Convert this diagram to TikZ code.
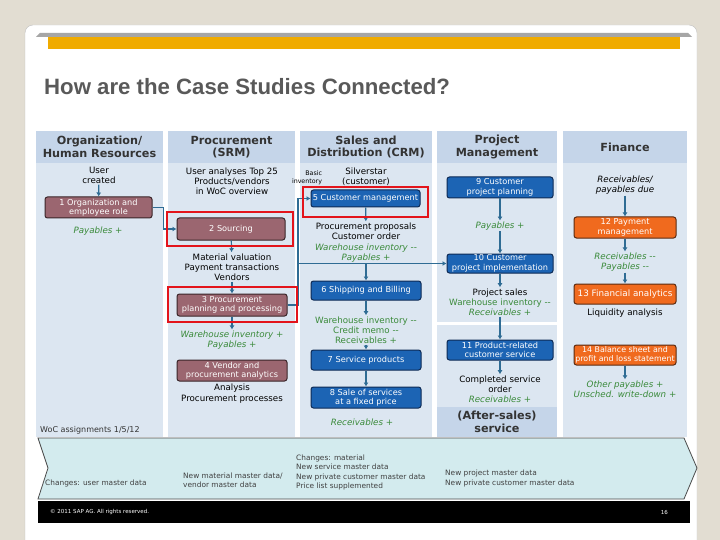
\documentclass[tikz,border=0pt]{standalone}
\usepackage{fontspec}
\usetikzlibrary{arrows.meta}
\setmainfont{DejaVu Sans}
\newfontfamily\titlefont{Liberation Sans}
\newfontfamily\dv{DejaVu Sans}
\definecolor{beige}{HTML}{E2DDD2}
\definecolor{headblue}{HTML}{C5D5E9}
\definecolor{bodyblue}{HTML}{DCE6F1}
\definecolor{maroonbox}{HTML}{9B6670}
\definecolor{maroonline}{HTML}{3A2528}
\definecolor{bluebox}{HTML}{1C64B4}
\definecolor{blueline}{HTML}{0D2A55}
\definecolor{orangebox}{HTML}{F06A1E}
\definecolor{orangeline}{HTML}{5A2A10}
\definecolor{arrowc}{HTML}{2F6C94}
\definecolor{grn}{HTML}{3A8A3A}
\definecolor{hired}{HTML}{E3141B}
\definecolor{sapyellow}{HTML}{F0AB00}
\definecolor{titlegray}{HTML}{595959}
\definecolor{bandfill}{HTML}{D3EBEE}
\tikzset{
  colhead/.style={fill=headblue, text=black!80, font=\dv\bfseries\fontsize{11.2}{12.5}\selectfont, align=center, inner sep=0pt},
  procbox/.style={rounded corners=2.5pt, line width=1pt, text=white, align=center, inner sep=0pt, font=\dv\fontsize{8.2}{9.4}\selectfont},
  mbox/.style={procbox, fill=maroonbox, draw=maroonline},
  bbox/.style={procbox, fill=bluebox, draw=blueline},
  obox/.style={procbox, fill=orangebox, draw=orangeline},
  txt/.style={align=center, inner sep=1pt, font=\dv\fontsize{8.7}{10.2}\selectfont, text=black},
  gtxt/.style={txt, text=grn, font=\dv\itshape\fontsize{8.7}{10.2}\selectfont},
  gtxtu/.style={txt, text=grn},
  arr/.style={draw=arrowc, line width=1.2pt, -{Latex[length=4pt,width=5pt]}},
  hilite/.style={draw=hired, line width=2.5pt},
  bandtxt/.style={anchor=west, align=left, inner sep=0pt, text=black!75, font=\dv\fontsize{7.4}{9.5}\selectfont}
}
\begin{document}
\begin{tikzpicture}[x=1pt,y=-1pt]
\useasboundingbox (0,0) rectangle (720,540);
\fill[beige] (0,0) rectangle (720,540);
\fill[white, rounded corners=8pt] (25,25) rectangle (697,560);
\draw[black!25, rounded corners=8pt] (25,560) -- (25,25) -- (697,25) -- (697,560);
% top bars
\fill[black!35] (36,37) -- (40,33) -- (688,33) -- (692,37) -- cycle;
\fill[sapyellow] (48,37) rectangle (680,49);
% title
\node[anchor=west, inner sep=0pt, text=titlegray, font=\titlefont\bfseries\fontsize{22.2}{25}\selectfont] (title) at (44,87) {How are the Case Studies Connected?};
% columns
\fill[bodyblue] (36,163) rectangle (163,437);
\fill[bodyblue] (168,163) rectangle (295,437);
\fill[bodyblue] (300,163) rectangle (432,437);
\fill[bodyblue] (437,163) rectangle (557,322);
\fill[bodyblue] (437,325) rectangle (557,437);
\fill[bodyblue] (563,163) rectangle (687,437);
\node[colhead, minimum width=127pt, minimum height=32pt] (h1) at (99.5,147) {Organization/\\Human Resources};
\node[colhead, minimum width=127pt, minimum height=32pt] (h2) at (231.5,147) {Procurement\\(SRM)};
\node[colhead, minimum width=132pt, minimum height=32pt] (h3) at (366,147) {Sales and\\Distribution (CRM)};
\node[colhead, minimum width=120pt, minimum height=32pt] (h4) at (497,147) {Project\\Management};
\node[colhead, minimum width=124pt, minimum height=32pt] (h5) at (625,147) {Finance};
\node[colhead, minimum width=120pt, minimum height=30pt] (h6) at (497,422) {(After-sales)\\service};
% column 1
\node[txt] (uc) at (99,175) {User\\created};
\node[mbox, minimum width=107pt, minimum height=21pt] (n1) at (98.5,207.5) {1 Organization and\\employee role};
\node[gtxt] (pay1) at (98,231) {Payables +};
\node[txt, anchor=west, font=\dv\fontsize{8}{9}\selectfont, text=black!80] (woc) at (39,430) {WoC assignments 1/5/12};
% column 2
\node[txt] (ua) at (232,181) {User analyses Top 25\\Products/vendors\\in WoC overview};
\node[mbox, minimum width=108pt, minimum height=22pt] (n2) at (231,229) {2 Sourcing};
\node[txt] (mat) at (232,267) {Material valuation\\Payment transactions\\Vendors};
\node[mbox, minimum width=110pt, minimum height=22pt] (n3) at (232,305) {3 Procurement\\planning and processing};
\node[gtxt] (wh2) at (232,340) {Warehouse inventory +\\Payables +};
\node[mbox, minimum width=110pt, minimum height=21pt] (n4) at (232,370.5) {4 Vendor and\\procurement analytics};
\node[txt] (an) at (232,393.5) {Analysis\\Procurement processes};
% column 3
\node[txt, font=\dv\fontsize{6.3}{7.5}\selectfont, align=right] (basic) at (307,178) {Basic\\inventory};
\node[txt] (silv) at (366,177) {Silverstar\\(customer)};
\node[bbox, minimum width=109pt, minimum height=17pt] (n5) at (365.5,198.5) {5 Customer management};
\node[txt] (procp) at (366,231) {Procurement proposals\\Customer order};
\node[gtxt] (wh3) at (366,253) {Warehouse inventory --\\Payables +};
\node[bbox, minimum width=110pt, minimum height=19pt] (n6) at (366,290.5) {6 Shipping and Billing};
\node[gtxtu] (wh3b) at (366,330) {Warehouse inventory --\\Credit memo --\\Receivables +};
\node[bbox, minimum width=110pt, minimum height=20pt] (n7) at (366,360) {7 Service products};
\node[bbox, minimum width=110pt, minimum height=21pt] (n8) at (366,397.5) {8 Sale of services\\at a fixed price};
\node[gtxt] (rec3) at (362,422) {Receivables +};
% column 4
\node[bbox, minimum width=106pt, minimum height=21pt] (n9) at (500,187.5) {9 Customer\\project planning};
\node[gtxt] (pay4) at (500,226) {Payables +};
\node[bbox, minimum width=106pt, minimum height=19pt] (n10) at (500,263.5) {10 Customer\\project implementation};
\node[txt] (ps) at (500,302) {Project sales\\\textcolor{grn}{Warehouse inventory --}\\\textcolor{grn}{\itshape Receivables +}};
\node[bbox, minimum width=106pt, minimum height=20pt] (n11) at (500,350) {11 Product-related\\customer service};
\node[txt] (cs) at (500,389) {Completed service\\order\\\textcolor{grn}{\itshape Receivables +}};
% column 5
\node[txt, font=\dv\itshape\fontsize{8.7}{10.2}\selectfont] (rpd) at (625,185) {Receivables/\\payables due};
\node[obox, minimum width=102pt, minimum height=21pt] (n12) at (625,227.5) {12 Payment\\management};
\node[gtxt] (rp) at (625,262) {Receivables --\\Payables --};
\node[obox, minimum width=102pt, minimum height=20pt, font=\dv\fontsize{8.8}{10}\selectfont] (n13) at (625,294) {13 Financial analytics};
\node[txt] (liq) at (625,313) {Liquidity analysis};
\node[obox, minimum width=102pt, minimum height=20pt, font=\dv\fontsize{7.9}{9}\selectfont] (n14) at (625,355) {14 Balance sheet and\\profit and loss statement};
\node[gtxt] (op) at (625,389) {Other payables +\\Unsched. write-down +};
% arrows
\draw[arr] (uc) -- (n1);
\draw[arr] (n1.east) -- ++(11,0) |- (n2.west);
\draw[arr] (n2) -- (mat);
\draw[arr] (mat) -- (n3);
\draw[arr] (n3) -- (wh2);
\coordinate (j) at (298,305);
\coordinate (b) at (298,263.5);
\draw[arr] (n3.east) -- (j) |- (n5.west);
\draw[arr] (b) -- (n10.west);
\draw[arr] (n5) -- (procp);
\draw[arr] (wh3) -- (n6);
\draw[arr] (n6) -- (wh3b);
\draw[arr] (wh3b) -- (n7);
\draw[arr] (n7) -- (n8);
\draw[arr] (n9) -- (pay4);
\draw[arr] (pay4) -- (n10);
\draw[arr] (n10) -- (ps);
\draw[arr] (ps) -- (n11);
\draw[arr] (n11) -- (cs);
\draw[arr] (rpd) -- (n12);
\draw[arr] (n12) -- (rp);
\draw[arr] (rp) -- (n13);
\draw[arr] (n14) -- (op);
% highlights
\draw[hilite] (167,212) rectangle (293,246);
\draw[hilite] (168,287) rectangle (297,322);
\draw[hilite] (303,187) rectangle (428,217);
% bottom band
\filldraw[fill=bandfill, draw=black!70, line width=0.8pt] (38,438) -- (684,438) -- (697,468) -- (684,499) -- (38,499) -- (48,468) -- cycle;
\node[bandtxt] (bt1) at (45,483) {Changes: user master data};
\node[bandtxt] (bt2) at (183,480) {New material master data/\\vendor master data};
\node[bandtxt] (bt3) at (296,472.5) {Changes: material\\New service master data\\New private customer master data\\Price list supplemented};
\node[bandtxt] (bt4) at (445,478.5) {New project master data\\New private customer master data};
% footer
\fill[black] (38,501) rectangle (690,523);
\node[anchor=west, inner sep=0pt, text=white, font=\dv\fontsize{5.5}{6}\selectfont] (copy) at (50,512) {\textcopyright{} 2011 SAP AG. All rights reserved.};
\node[anchor=east, inner sep=0pt, text=white, font=\dv\fontsize{5.5}{6}\selectfont] (pg) at (668,512) {16};
\end{tikzpicture}
\end{document}
